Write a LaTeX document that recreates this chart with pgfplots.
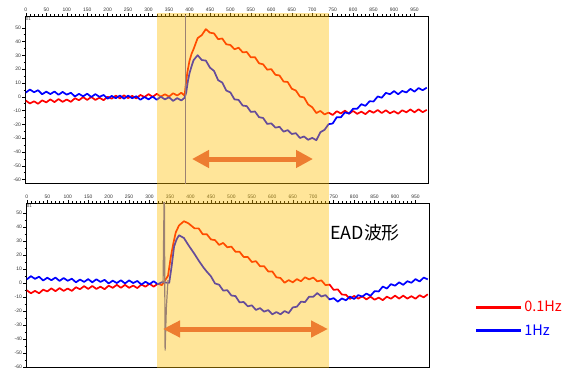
\documentclass[border=0pt]{standalone}
\usepackage{pgfplots}
\pgfplotsset{compat=1.18}
\usepackage{fontspec}
\setmainfont{Liberation Sans}
\newfontfamily\cjk{Noto Sans CJK JP}
\usetikzlibrary{arrows.meta}
\definecolor{ored}{RGB}{255,0,0}
\definecolor{oblue}{RGB}{0,0,255}
\definecolor{hl}{RGB}{255,192,0}
\definecolor{arr}{RGB}{237,125,49}
\definecolor{spk}{RGB}{90,90,190}
\pgfplotsset{
 panel/.style={
  scale only axis, width=403bp, xmin=-2, xmax=983,
  axis line style={line width=0.8bp, black},
  xtick={0,50,...,950}, minor x tick num=4,
  ytick={-60,-50,...,50}, minor y tick num=1,
  xtick pos=right, xticklabel pos=right, ytick pos=left,
  tick align=outside, major tick length=3bp, minor tick length=1.5bp,
  tick style={black, line width=0.45bp},
  tick label style={font=\fontsize{5}{5}\selectfont, text=black!80, inner sep=1bp},
  /pgf/number format/assume math mode=true,
  every axis plot/.append style={line width=1.7bp, no marks, line join=round},
 }
}
\begin{document}
\begin{tikzpicture}[x=1bp,y=1bp]
\useasboundingbox (0,0) rectangle (580,370);
\fill[white] (0,0) rectangle (580,370);
% ---------- top panel ----------
\begin{axis}[panel, at={(25bp,187bp)}, anchor=south west, height=167bp, ymin=-62.5, ymax=58.5]
\addplot[ored] coordinates {
(0,-2.8)(10,-4.9)(20,-3.3)(30,-5.1)(40,-2.6)(50,-4.1)(60,-1.9)(70,-3.9)(80,-1.7)(90,-3.7)
(100,-2.0)(110,-3.7)(120,-1.1)(130,-2.5)(140,-0.3)(150,-2.3)(160,-0.2)(170,-2.3)(180,-0.7)(190,-2.5)
(200,0.0)(210,-1.4)(220,0.8)(230,-1.2)(240,1.0)(250,-1.0)(260,0.6)(270,-1.2)(280,1.3)(290,-0.2)
(300,1.9)(310,-0.1)(320,2.1)(330,0.1)(340,1.8)(350,0.1)(360,2.5)(370,0.9)(380,2.9)(388,0.7)
(391,9)(395,18)(400,26)(405,31)(410,34.5)(420,42.5)(430,44.6)(440,49)(450,46.4)(460,45.9)
(470,41.7)(480,42.2)(490,38)(500,37.5)(510,34.4)(520,35.5)(530,32.2)(540,32.4)(550,28.5)(560,28.7)
(570,24.2)(580,23.5)(590,19.6)(600,20)(610,15.9)(620,15.4)(630,11)(640,10.7)(650,5.8)(660,4.5)
(670,0.1)(680,-0.5)(690,-5.6)(700,-7.6)(710,-11.8)(720,-10.3)(730,-12.8)(740,-11.5)(750,-13.2)(760,-10.5)
(770,-12.1)(780,-10.1)(790,-12.3)(800,-10.3)(810,-12.4)(820,-10.8)(830,-12.6)(840,-10.1)(850,-11.6)(860,-9.6)
(870,-11.8)(880,-9.8)(890,-12)(900,-10.5)(910,-12.3)(920,-9.8)(930,-11.3)(940,-9.2)(950,-11.3)(960,-9.1)
(970,-11.2)(980,-9.5)};
\addplot[oblue] coordinates {
(0,3.0)(10,5.2)(20,3.3)(30,4.7)(40,1.8)(50,3.7)(60,1.9)(70,3.8)(80,1.4)(90,3.5)
(100,1.5)(110,2.9)(120,0.2)(130,2.1)(140,0.3)(150,2.2)(160,-0.2)(170,1.9)(180,-0.1)(190,1.3)
(200,-1.4)(210,0.6)(220,-1.1)(230,0.9)(240,-1.4)(250,0.8)(260,-1.1)(270,0.4)(280,-2.2)(290,-0.2)
(300,-1.9)(310,0.1)(320,-2.2)(330,0)(340,-1.9)(350,-0.4)(360,-3.0)(370,-1.0)(380,-2.7)(388,-0.8)
(392,3)(396,11)(400,17)(405,22)(410,26.5)(420,30.1)(430,26.6)(440,26.2)(450,21.1)(460,18.7)
(470,12)(480,10.3)(490,4.5)(500,3.1)(510,-1.9)(520,-2.3)(530,-6.4)(540,-6.8)(550,-11)(560,-10.7)
(570,-14.8)(580,-15.4)(590,-19.7)(600,-19.3)(610,-22.4)(620,-21.8)(630,-25.3)(640,-24.2)(650,-27)(660,-26.4)
(670,-29.9)(680,-28.8)(690,-31.2)(700,-29.8)(710,-31.5)(720,-25.7)(730,-24)(740,-19.9)(750,-19.4)(760,-14.8)
(770,-14.9)(780,-11.3)(790,-12.2)(800,-8.7)(810,-8.7)(820,-5.4)(830,-6.6)(840,-3.3)(850,-3.4)(860,0.2)
(870,-0.7)(880,2.8)(890,1.8)(900,4.1)(910,1.8)(920,4.2)(930,3.1)(940,5.7)(950,3.7)(960,6.3)
(970,4.7)(980,6.6)};
\addplot[spk, line width=0.8bp] coordinates {(391,-70)(391,70)};
\node[anchor=north west, font=\fontsize{4.5}{5}\selectfont, inner sep=0.8bp, text=black!75] at (rel axis cs:0,1) {01};
\end{axis}
% ---------- bottom panel ----------
\begin{axis}[panel, at={(26bp,3bp)}, anchor=south west, height=164bp, ymin=-60, ymax=57,
  legend style={at={(1.114,0.293)}, anchor=west, draw=none, fill=none, inner sep=0pt,
    font=\cjk\fontsize{14.5}{14.5}\selectfont, row sep=7bp, cells={anchor=west}},
  legend image code/.code={\draw[#1, line width=2.2bp] (0bp,0bp) -- (45bp,0bp);},
  /tikz/every even column/.append style={column sep=9bp}]
\addplot[ored] coordinates {
(0,-5.3)(10,-7.4)(20,-5.7)(30,-7.4)(40,-4.8)(50,-6.1)(60,-3.9)(70,-5.9)(80,-3.7)(90,-5.7)
(100,-4.0)(110,-5.7)(120,-3.1)(130,-4.5)(140,-2.3)(150,-4.3)(160,-2.2)(170,-4.3)(180,-2.7)(190,-4.5)
(200,-2.0)(210,-3.5)(220,-1.4)(230,-3.5)(240,-1.4)(250,-3.5)(260,-1.9)(270,-3.7)(280,-1.2)(290,-2.7)
(300,-0.6)(310,-2.7)(320,-0.6)(330,-1.6)(345,5)(352,18.6)(358,28)(364,36)(372,41)(384,44)
(395,42.5)(410,38.9)(420,38.9)(430,34.7)(440,34.7)(450,31)(460,30.5)(470,27.1)(480,28.5)(490,25.4)
(500,25.9)(510,22.2)(520,22.2)(530,18.5)(540,18.5)(550,14.9)(560,15.5)(570,11.9)(580,11.9)(590,8.2)
(600,8.2)(610,4)(620,3.5)(630,0.1)(640,2)(650,0.4)(660,2.7)(670,1.2)(680,4)(690,2.5)
(700,3.8)(710,1.1)(720,1.8)(730,-1.6)(740,-1.2)(750,-5)(760,-4.6)(770,-8.3)(780,-8.5)(790,-11.4)
(800,-9.3)(810,-11.2)(820,-9.6)(830,-11.8)(840,-9.8)(850,-12)(860,-10.5)(870,-12.3)(880,-9.8)(890,-11.3)
(900,-9.1)(910,-11.2)(920,-9.1)(930,-11.2)(940,-9.5)(950,-11.3)(960,-8.8)(970,-10.3)(980,-8.1)};
\addlegendentry{\textcolor{ored}{0.1Hz}}
\addplot[oblue] coordinates {
(0,2.5)(10,4.8)(20,2.9)(30,4.4)(40,1.7)(50,3.7)(60,1.9)(70,3.8)(80,1.4)(90,3.5)
(100,1.5)(110,3.0)(120,0.4)(130,2.4)(140,0.7)(150,2.7)(160,0.4)(170,2.6)(180,0.7)(190,2.2)
(200,-0.4)(210,1.6)(220,-0.1)(230,1.9)(240,-0.4)(250,1.8)(260,-0.1)(270,1.4)(280,-1.2)(290,0.8)
(300,-0.9)(310,1.2)(320,-1.0)(330,0.5)(348,0)(354,12)(360,26)(366,31)(372,34)(384,32)
(396,26.5)(409,21)(421,15.5)(433,10.5)(440,8)(450,4.7)(460,-0.4)(470,-1.3)(480,-5.5)(490,-5.2)
(500,-9)(510,-9.4)(520,-13.9)(530,-13.6)(540,-16.7)(550,-16)(560,-19.3)(570,-18)(580,-20.5)(590,-19.4)
(600,-22.4)(610,-20.8)(620,-22.4)(630,-20.1)(640,-21.5)(650,-17.5)(660,-17)(670,-13.4)(680,-13.7)(690,-9.8)
(700,-9.9)(710,-7.3)(720,-9.7)(730,-8.7)(740,-11.8)(750,-10.9)(760,-13.4)(770,-11.1)(780,-12.4)(790,-9.8)
(800,-11.5)(810,-8.7)(820,-9.8)(830,-7.6)(840,-9.2)(850,-5.9)(860,-6.1)(870,-2.6)(880,-4)(890,-0.9)
(900,-2)(910,0.4)(920,-1.4)(930,1.2)(940,0.1)(950,2.7)(960,1)(970,3.8)(980,2.5)};
\addlegendentry{\textcolor{oblue}{1Hz}}
\addplot[spk, line width=1.2bp, forget plot] coordinates {(333,0)(336,70)(338,-48)(341,-18)(345,2)};
\node[anchor=north west, font=\fontsize{4.5}{5}\selectfont, inner sep=0.8bp, text=black!75] at (rel axis cs:0,1) {01};
\end{axis}
% ---------- highlight ----------
\fill[hl, opacity=0.4] (157,2) rectangle (329,357);
% ---------- arrows ----------
\draw[arr, line width=5bp, {Triangle[width=17bp,length=17bp]}-{Triangle[width=17bp,length=17bp]}] (192,211) -- (313,211);
\draw[arr, line width=5bp, {Triangle[width=16bp,length=17bp]}-{Triangle[width=16bp,length=17bp]}] (163,41) -- (328,41);
% ---------- label ----------
\node[anchor=west, inner sep=0pt, font=\cjk\fontsize{18}{18}\selectfont] at (330,137) {EAD波形};
\end{tikzpicture}
\end{document}
